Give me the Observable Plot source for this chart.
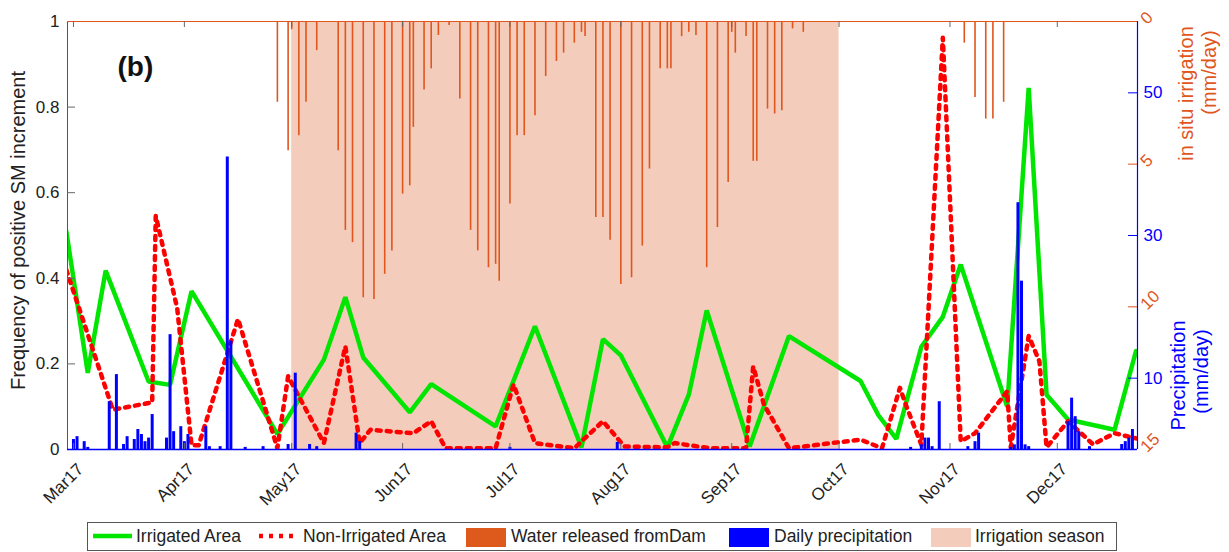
<!DOCTYPE html>
<html><head><meta charset="utf-8">
<script src="https://cdn.jsdelivr.net/npm/d3@7"></script>
<script src="https://cdn.jsdelivr.net/npm/@observablehq/plot@0.6"></script>
<style>
body{margin:0;background:#fff;font-family:"Liberation Sans",Arial,Helvetica,sans-serif;}
#wrap{position:relative;width:1229px;height:552px;overflow:hidden;}
#legend{position:absolute;left:87px;top:522px;width:1030px;height:29px;border:1.5px solid #555;box-sizing:border-box;background:#fff;}
.li{position:absolute;font-size:17.5px;color:#222;top:50%;transform:translateY(-52%);white-space:nowrap;line-height:1;}
.sw{position:absolute;top:4.5px;width:40px;height:19px;}
.ln{position:absolute;top:0;height:26px;}
</style></head><body><div id="wrap"><div id="chart"></div><div id="legend"></div></div>
<script>
// ---------- data ----------
const irrigatedDates = ["2017-02-27","2017-03-05","2017-03-10","2017-03-22","2017-03-28","2017-04-03","2017-04-27","2017-05-10","2017-05-16","2017-05-21","2017-06-03","2017-06-09","2017-06-27","2017-07-08","2017-07-21","2017-07-27","2017-08-01","2017-08-14","2017-08-20","2017-08-25","2017-09-06","2017-09-17","2017-10-07","2017-10-12","2017-10-17","2017-10-24","2017-10-30","2017-11-04","2017-11-17","2017-11-23","2017-11-28","2017-12-04","2017-12-17","2017-12-23"];
const irrigatedValues = [0.51,0.179,0.418,0.159,0.151,0.37,0.036,0.21,0.356,0.215,0.087,0.153,0.054,0.288,0.005,0.258,0.22,0.005,0.128,0.325,0.007,0.265,0.16,0.08,0.025,0.24,0.31,0.432,0.1,0.845,0.128,0.07,0.046,0.23];

const nonIrrigatedDates = ["2017-02-27","2017-03-12","2017-03-23","2017-03-24","2017-03-30","2017-04-03","2017-04-05","2017-04-16","2017-04-27","2017-04-30","2017-05-10","2017-05-16","2017-05-20","2017-05-23","2017-06-04","2017-06-09","2017-06-13","2017-06-27","2017-07-02","2017-07-08","2017-07-19","2017-07-27","2017-08-02","2017-08-14","2017-08-16","2017-08-26","2017-09-05","2017-09-07","2017-09-10","2017-09-17","2017-09-29","2017-10-07","2017-10-13","2017-10-18","2017-10-20","2017-10-24","2017-10-30","2017-11-04","2017-11-08","2017-11-17","2017-11-18","2017-11-23","2017-11-26","2017-11-28","2017-12-04","2017-12-11","2017-12-17","2017-12-23"];
const nonIrrigatedValues = [0.42,0.093,0.11,0.546,0.33,0.01,0.01,0.305,0.003,0.171,0.015,0.241,0.015,0.046,0.038,0.066,0.003,0.003,0.152,0.015,0.003,0.066,0.007,0.005,0.015,0.003,0.003,0.194,0.105,0.003,0.015,0.023,0.003,0.144,0.097,0.011,0.962,0.019,0.038,0.136,0.005,0.265,0.206,0.005,0.066,0.012,0.038,0.026];

const damDates = ["2017-04-27","2017-04-30","2017-05-01","2017-05-03","2017-05-05","2017-05-08","2017-05-14","2017-05-16","2017-05-18","2017-05-21","2017-05-24","2017-05-27","2017-05-29","2017-06-01","2017-06-03","2017-06-04","2017-06-07","2017-06-09","2017-06-11","2017-06-14","2017-06-17","2017-06-20","2017-06-22","2017-06-25","2017-06-27","2017-06-28","2017-07-01","2017-07-03","2017-07-05","2017-07-08","2017-07-11","2017-07-14","2017-07-16","2017-07-19","2017-07-21","2017-07-22","2017-07-25","2017-07-27","2017-07-29","2017-08-01","2017-08-04","2017-08-07","2017-08-09","2017-08-12","2017-08-14","2017-08-15","2017-08-18","2017-08-20","2017-08-22","2017-08-25","2017-08-28","2017-08-31","2017-09-01","2017-09-02","2017-09-05","2017-09-07","2017-09-08","2017-09-11","2017-09-13","2017-09-15","2017-09-18","2017-09-21","2017-11-05","2017-11-08","2017-11-11","2017-11-13","2017-11-16"];
const damValues = [2.83,4.53,0.29,4.0,2.83,1.02,4.53,7.32,7.75,9.68,9.74,8.86,8.04,6.05,5.76,3.71,2.4,1.66,0.49,0.14,2.72,7.32,8.04,8.63,8.51,9.1,6.4,4.0,4.0,3.3,1.93,1.4,1.11,0.76,0.38,0.53,6.87,6.87,7.67,9.22,8.98,7.87,5.17,1.66,1.66,1.66,0.53,0.38,0.49,8.63,7.22,5.64,0.38,1.11,0.53,4.9,4.9,3.07,3.24,3.13,0.26,0.38,0.76,2.66,3.42,3.42,2.83];

const precipDates = ["2017-03-01","2017-03-02","2017-03-04","2017-03-05","2017-03-11","2017-03-13","2017-03-15","2017-03-16","2017-03-18","2017-03-19","2017-03-20","2017-03-21","2017-03-22","2017-03-23","2017-03-27","2017-03-28","2017-03-29","2017-03-31","2017-04-01","2017-04-02","2017-04-07","2017-04-08","2017-04-11","2017-04-13","2017-04-14","2017-04-18","2017-04-23","2017-04-30","2017-05-02","2017-05-06","2017-05-08","2017-05-19","2017-05-20","2017-07-01","2017-07-31","2017-10-21","2017-10-24","2017-10-25","2017-10-26","2017-10-27","2017-10-29","2017-11-06","2017-11-08","2017-11-09","2017-11-18","2017-11-19","2017-11-20","2017-11-21","2017-11-22","2017-11-23","2017-12-04","2017-12-05","2017-12-06","2017-12-07","2017-12-10","2017-12-19","2017-12-20","2017-12-21","2017-12-22"];
const precipValues = [1.4,1.8,1.1,0.3,6.7,10.5,0.7,1.8,1.4,2.8,2.1,1.1,1.6,4.9,1.6,16.1,2.5,3.2,1.1,2.1,3.2,0.4,0.4,41.0,15.2,0.3,0.4,0.7,10.7,0.7,0.4,2.3,1.1,0.3,1.0,0.3,0.65,1.6,1.6,0.4,6.7,0.4,1.1,2.3,0.3,0.65,34.6,23.6,0.65,0.4,3.9,7.2,4.6,2.5,0.4,0.7,1.1,1.6,2.8];

const seasonStart = "2017-05-01", seasonEnd = "2017-10-01";
const monthTickDates = ["2017-03-01","2017-04-01","2017-05-01","2017-06-01","2017-07-01","2017-08-01","2017-09-01","2017-10-01","2017-11-01","2017-12-01"];
const monthTickLabels = ["Mar17","Apr17","May17","Jun17","Jul17","Aug17","Sep17","Oct17","Nov17","Dec17"];
const leftTicks = [0, 0.2, 0.4, 0.6, 0.8, 1];
const precipTicks = [10, 30, 50];
const irrTicks = [0, 5, 10, 15];
const PREC_MAX = 60, IRR_MAX = 15;

// ---------- helpers ----------
const parse = d3.utcParse("%Y-%m-%d");
const zip = (ds, vs) => ds.map((d, i) => ({date: parse(d), value: vs[i]}));
const irrigated = zip(irrigatedDates, irrigatedValues);
const nonIrrigated = zip(nonIrrigatedDates, nonIrrigatedValues);
const dam = zip(damDates, damValues);
const precip = zip(precipDates, precipValues);
const months = monthTickDates.map((d, i) => ({date: parse(d), label: monthTickLabels[i]}));
const pToY = v => v / PREC_MAX;
const iToY = v => 1 - v / IRR_MAX;

const xDomain = [new Date(Date.UTC(2017,1,27,8)), new Date(Date.UTC(2017,11,23,10))];
const W = 1229, H = 520, mT = 21, mB = 71, mL = 67, mR = 92;
const pw = W - mL - mR, ph = H - mT - mB;

const GREEN = "#00e600", RED = "#ff0000", ORANGE = "#e0561d", BLUE = "#0000ff", PINK = "#f4ccbc", GRAY = "#666";
const FONT = "'Liberation Sans', Arial, Helvetica, sans-serif";
const DOTS = "4,6";

const chart = Plot.plot({
  width: W, height: H,
  marginTop: mT, marginBottom: mB, marginLeft: mL, marginRight: mR,
  style: {fontFamily: FONT, background: "white", overflow: "visible"},
  x: {type: "utc", domain: xDomain, axis: null},
  y: {domain: [0, 1], axis: null},
  marks: [
    Plot.rect([{a: parse(seasonStart), b: parse(seasonEnd)}], {x1: "a", x2: "b", y1: 0, y2: 1, fill: PINK}),
    Plot.ruleX(dam, {x: "date", y1: 1, y2: d => iToY(d.value), stroke: ORANGE, strokeWidth: 1.6}),
    Plot.line(irrigated, {x: "date", y: "value", stroke: GREEN, strokeWidth: 4.5, clip: true, strokeLinejoin: "miter"}),
    Plot.line(nonIrrigated, {x: "date", y: "value", stroke: RED, strokeWidth: 4.5, strokeDasharray: DOTS, clip: true}),
    Plot.ruleX(precip, {x: "date", y1: 0, y2: d => pToY(d.value), stroke: BLUE, strokeWidth: 3}),
    // axis lines
    Plot.ruleX([xDomain[0]], {stroke: "#555", strokeWidth: 1}),
    Plot.ruleX([xDomain[1]], {stroke: BLUE, strokeWidth: 1.2}),
    Plot.ruleY([1], {stroke: ORANGE, strokeWidth: 1.2}),
    Plot.ruleY([0], {stroke: BLUE, strokeWidth: 1.5}),
    // inward ticks
    Plot.tickX(months, {x: "date", insetTop: ph - 6, stroke: GRAY}),
    Plot.tickX(months, {x: "date", insetBottom: ph - 6, stroke: GRAY}),
    Plot.tickY(leftTicks.slice(1, -1), {y: d => d, insetRight: pw - 8, stroke: GRAY}),
    Plot.tickY(precipTicks, {y: d => pToY(d), insetLeft: pw - 9, stroke: BLUE}),
    Plot.tickY(irrTicks.slice(1, -1), {y: d => iToY(d), insetLeft: pw - 9, stroke: ORANGE}),
    // tick labels
    Plot.text(leftTicks, {x: xDomain[0], y: d => d, text: d => String(d), textAnchor: "end", dx: -8, fontSize: 17, fill: "#222"}),
    Plot.text(months, {x: "date", y: 0, text: "label", rotate: -45, textAnchor: "end", lineAnchor: "middle", dx: 7, dy: 17, fontSize: 17, fill: "#222"}),
    Plot.text(precipTicks, {x: xDomain[1], y: d => pToY(d), text: d => String(d), textAnchor: "start", dx: 6, fontSize: 17, fill: BLUE}),
    Plot.text(irrTicks, {x: xDomain[1], y: d => iToY(d), text: d => String(d), rotate: -45, textAnchor: "start", lineAnchor: "middle", dx: 6, fontSize: 17, fill: ORANGE}),
    // titles
    Plot.text(["Frequency of positive SM increment"], {frameAnchor: "left", textAnchor: "middle", dx: -49, dy: -5, rotate: -90, lineAnchor: "middle", fontSize: 20, fill: "#222"}),
    Plot.text(["in situ irrigation"], {frameAnchor: "top-right", textAnchor: "middle", dx: 49, dy: 72, rotate: -90, lineAnchor: "middle", fontSize: 20, fill: ORANGE}),
    Plot.text(["(mm/day)"], {frameAnchor: "top-right", textAnchor: "middle", dx: 72, dy: 51, rotate: -90, lineAnchor: "middle", fontSize: 20, fill: ORANGE}),
    Plot.text(["Precipitation"], {frameAnchor: "top-right", textAnchor: "middle", dx: 41, dy: 354, rotate: -90, lineAnchor: "middle", fontSize: 20, fill: BLUE}),
    Plot.text(["(mm/day)"], {frameAnchor: "top-right", textAnchor: "middle", dx: 64, dy: 350, rotate: -90, lineAnchor: "middle", fontSize: 20, fill: BLUE}),
    Plot.text(["(b)"], {frameAnchor: "top-left", dx: 50, dy: 54, lineAnchor: "bottom", textAnchor: "start", fontSize: 28, fontWeight: "bold", fill: "#111"})
  ]
});
document.getElementById("chart").appendChild(chart);

// ---------- legend ----------
const legendItems = [
  {kind: "line", color: GREEN, dash: null, left: 5, width: 39, label: "Irrigated Area", tx: 48},
  {kind: "line", color: RED, dash: DOTS, left: 171, width: 36, label: "Non-Irrigated Area", tx: 215},
  {kind: "box", color: "#de5a1c", left: 378, label: "Water released fromDam", tx: 423},
  {kind: "box", color: BLUE, left: 641, label: "Daily precipitation", tx: 686},
  {kind: "box", color: PINK, left: 843, label: "Irrigation season", tx: 887}
];
const lg = document.getElementById("legend");
for (const it of legendItems) {
  if (it.kind === "line") {
    const s = document.createElementNS("http://www.w3.org/2000/svg", "svg");
    s.setAttribute("class", "ln"); s.setAttribute("width", it.width); s.setAttribute("height", 26);
    s.style.left = it.left + "px";
    const l = document.createElementNS("http://www.w3.org/2000/svg", "line");
    l.setAttribute("x1", 0); l.setAttribute("x2", it.width); l.setAttribute("y1", 13); l.setAttribute("y2", 13);
    l.setAttribute("stroke", it.color); l.setAttribute("stroke-width", 4.5);
    if (it.dash) l.setAttribute("stroke-dasharray", it.dash);
    s.appendChild(l); lg.appendChild(s);
  } else {
    const b = document.createElement("div");
    b.className = "sw"; b.style.left = it.left + "px"; b.style.background = it.color;
    lg.appendChild(b);
  }
  const t = document.createElement("div");
  t.className = "li"; t.style.left = it.tx + "px"; t.textContent = it.label;
  lg.appendChild(t);
}
</script></body></html>
